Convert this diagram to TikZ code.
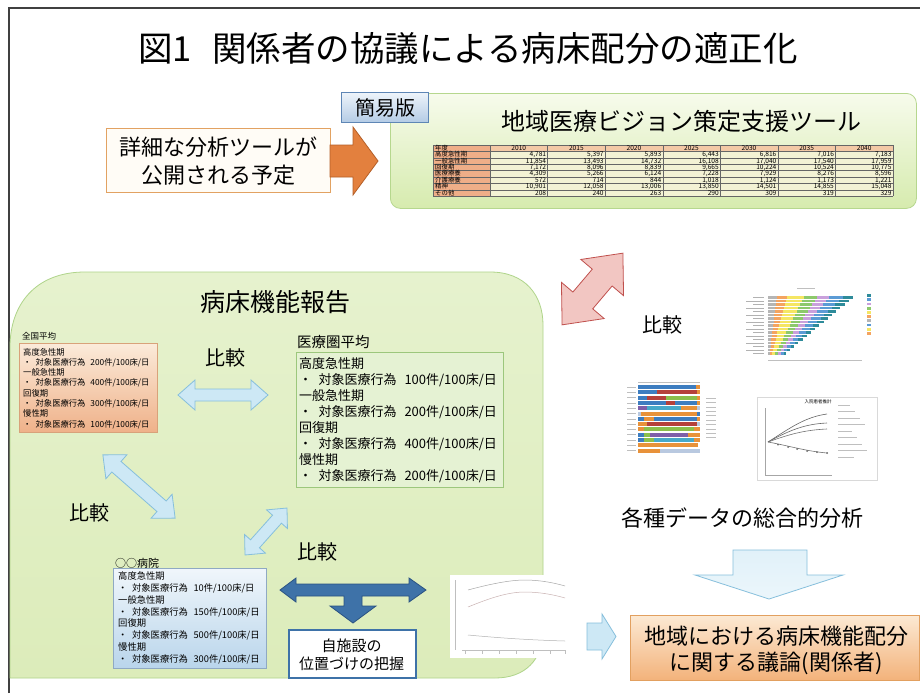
\documentclass[tikz,border=0pt]{standalone}
\usepackage{fontspec}
\setmainfont{Noto Sans CJK JP}
\newcommand\fsz[1]{\fontsize{#1}{#1}\selectfont}
\definecolor{grnT}{HTML}{E6F2CE}
\definecolor{grnB}{HTML}{DCECBA}
\definecolor{grnD}{HTML}{AFD48A}
\definecolor{toolT}{HTML}{F7FBEC}
\definecolor{toolB}{HTML}{D6EBAE}
\definecolor{toolD}{HTML}{B6D78E}
\definecolor{kanT}{HTML}{EEF4FA}
\definecolor{kanB}{HTML}{B3CBE5}
\definecolor{kanD}{HTML}{5E86B5}
\definecolor{detF}{HTML}{FFFCF6}
\definecolor{detD}{HTML}{E2A262}
\definecolor{oarF}{HTML}{E3803E}
\definecolor{oarD}{HTML}{B45F28}
\definecolor{zenT}{HTML}{FBEBDA}
\definecolor{zenB}{HTML}{EFB189}
\definecolor{zenD}{HTML}{D8A27A}
\definecolor{medF}{HTML}{E5F2D3}
\definecolor{medD}{HTML}{9CC77C}
\definecolor{hosT}{HTML}{F0F6FB}
\definecolor{hosB}{HTML}{B9D5EB}
\definecolor{hosD}{HTML}{8FA9C3}
\definecolor{lblue}{HTML}{CDE8F5}
\definecolor{lblueD}{HTML}{86BFDC}
\definecolor{dblue}{HTML}{3E72A8}
\definecolor{dblueD}{HTML}{2A5282}
\definecolor{pinkF}{HTML}{F2C6C2}
\definecolor{pinkD}{HTML}{C0504D}
\definecolor{discT}{HTML}{FCE9D3}
\definecolor{discB}{HTML}{F3B27A}
\definecolor{discD}{HTML}{E2A060}
\definecolor{tlabF}{HTML}{EFAE88}
\definecolor{thdF}{HTML}{F3C9A6}
\definecolor{tvalF}{HTML}{F3F2D4}
\definecolor{cT}{HTML}{2E8B9A}
\definecolor{cB}{HTML}{5B9BD5}
\definecolor{cP}{HTML}{C9A0DC}
\definecolor{cG}{HTML}{8DC96B}
\definecolor{cY}{HTML}{F5E663}
\definecolor{cO}{HTML}{F4A460}
\definecolor{cGr}{HTML}{B5B5B5}
\definecolor{sB}{HTML}{3D7DC0}
\definecolor{sR}{HTML}{B5403A}
\definecolor{sG}{HTML}{8BBF4B}
\definecolor{sO}{HTML}{E8923A}
\definecolor{sP}{HTML}{7E5FA8}
\definecolor{sC}{HTML}{47A9C9}
\definecolor{sL}{HTML}{B9C9E0}
\newcommand\dblarrow[8]{%
 \begin{scope}[shift={(#2,#3)},rotate=#4]
  \draw[#1] (-#5,0) -- ({-#5+#8},{-#7}) -- ({-#5+#8},{-#6}) -- ({#5-#8},{-#6}) -- ({#5-#8},{-#7}) -- (#5,0) -- ({#5-#8},{#7}) -- ({#5-#8},{#6}) -- ({-#5+#8},{#6}) -- ({-#5+#8},{#7}) -- cycle;
 \end{scope}}
\newcommand\trow[9]{%
 \pgfmathsetmacro\ty{145+6.4*#1+5.3}
 \node[tlab] (tl#1) at (435,\ty) {#2};
 \node[tnum] (tn#1a) at (546.3,\ty) {#3};
 \node[tnum] (tn#1b) at (603.8,\ty) {#4};
 \node[tnum] (tn#1c) at (661.4,\ty) {#5};
 \node[tnum] (tn#1d) at (719.0,\ty) {#6};
 \node[tnum] (tn#1e) at (776.6,\ty) {#7};
 \node[tnum] (tn#1f) at (834.1,\ty) {#8};
 \node[tnum] (tn#1g) at (891.7,\ty) {#9};}
\newcommand\sbar[2]{%
 \pgfmathsetmacro\sy{385+5.3*#1}
 \foreach \c/\f in {#2}{\fill[\c] (638,\sy) rectangle ({638+62*\f},{\sy+4});}}
\begin{document}
\begin{tikzpicture}[x=1pt,y=-1pt,
  frame/.style={draw=black!75,line width=1.6pt},
  cmp/.style={font=\fsz{20pt},inner sep=0pt},
  lbarr/.style={fill=lblue,draw=lblueD,line width=0.8pt,line join=miter},
  boxnode/.style={anchor=north west,inner sep=0pt},
  tlab/.style={anchor=base west,inner sep=0pt,font=\fsz{6.4pt}},
  tnum/.style={anchor=base east,inner sep=0pt,font=\fsz{6.6pt}},
  thd/.style={anchor=base,inner sep=0pt,font=\fsz{6.6pt}},
  zline/.style={anchor=base west,inner sep=0pt,font=\fsz{8.3pt}},
  mline/.style={anchor=base west,inner sep=0pt,font=\fsz{13pt}},
  hline/.style={anchor=base west,inner sep=0pt,font=\fsz{9.3pt}},
  tgrid/.style={draw=black!60,line width=0.3pt},
  faint/.style={draw=black!30,line width=0.5pt}]
\useasboundingbox (0,0) rectangle (920,693);
\fill[white] (0,0) rectangle (920,693);
\draw[frame] (9,693) -- (9,8) -- (920,8);

% title
\node[font=\fsz{34.5pt},inner sep=0pt] (title) at (468,48) {図1\hspace{20pt}関係者の協議による病床配分の適正化};

% tool box
\node[boxnode,draw=toolD,line width=0.8pt,rounded corners=10pt,top color=toolT,bottom color=toolB,minimum width=526pt,minimum height=115pt] (tool) at (390,93) {};
\node[boxnode,draw=kanD,line width=1pt,top color=kanT,bottom color=kanB,minimum width=87pt,minimum height=30pt] (kan) at (341,92) {};
\node[font=\fsz{20pt},inner sep=0pt] (kanT) at (kan.center) {簡易版};
\node[font=\fsz{24pt},inner sep=0pt] (toolT) at (681,121) {地域医療ビジョン策定支援ツール};

% table
\fill[thdF] (433,145) rectangle (893,151.4);
\fill[tvalF] (490,151.4) rectangle (893,196.2);
\fill[tlabF] (433,145) rectangle (490,196.2);
\foreach \r in {0,...,8}{\draw[tgrid] (433,{145+6.4*\r}) -- (893,{145+6.4*\r});}
\foreach \c in {0,...,7}{\draw[tgrid] ({490+57.57*\c},145) -- ({490+57.57*\c},196.2);}
\draw[tgrid] (433,145) -- (433,196.2);
\node[tlab] (tl0) at (435,150.3) {年度};
\foreach \yr [count=\k] in {2010,2015,2020,2025,2030,2035,2040}{
  \node[thd] (th\k) at ({490+57.57*\k-28.8},150.3) {\yr};}
\trow{1}{高度急性期}{4,781}{5,397}{5,893}{6,443}{6,816}{7,016}{7,183}
\trow{2}{一般急性期}{11,854}{13,493}{14,732}{16,108}{17,040}{17,540}{17,959}
\trow{3}{回復期}{7,172}{8,096}{8,839}{9,665}{10,224}{10,524}{10,775}
\trow{4}{医療療養}{4,309}{5,266}{6,124}{7,228}{7,929}{8,276}{8,596}
\trow{5}{介護療養}{572}{714}{844}{1,018}{1,124}{1,173}{1,221}
\trow{6}{精神}{10,901}{12,058}{13,006}{13,850}{14,501}{14,855}{15,048}
\trow{7}{その他}{208}{240}{263}{290}{309}{319}{329}

% detail box and orange arrow
\node[boxnode,draw=detD,line width=1.3pt,fill=detF,minimum width=224pt,minimum height=64pt] (det) at (106,128) {};
\node[font=\fsz{22pt},inner sep=0pt] (det1) at (218,147) {詳細な分析ツールが};
\node[font=\fsz{22pt},inner sep=0pt] (det2) at (218,175) {公開される予定};
\draw[fill=oarF,draw=oarD,line width=0.8pt] (330,145) -- (353,145) -- (353,127) -- (378,161) -- (353,195) -- (353,177) -- (330,177) -- cycle;

% green region
\draw[draw=grnD,line width=0.8pt,top color=grnT,bottom color=grnB] (10,678) -- (10,347) .. controls (10,305) and (35,272) .. (85,272) -- (490,272) .. controls (525,272) and (543,295) .. (543,325) -- (543,630) .. controls (543,660) and (525,678) .. (495,678) -- cycle;
\node[font=\fsz{25pt},inner sep=0pt] (bed) at (275,302) {病床機能報告};

% national average
\node[anchor=base west,inner sep=0pt,font=\fsz{8.5pt}] (zenL) at (22,339) {全国平均};
\node[boxnode,draw=zenD,line width=0.6pt,top color=zenT,bottom color=zenB,minimum width=138pt,minimum height=89pt] (zen) at (19,343) {};
\foreach \t [count=\i] in {高度急性期,・\hspace{0.5em}対象医療行為\hspace{0.6em}200件/100床/日,一般急性期,・\hspace{0.5em}対象医療行為\hspace{0.6em}400件/100床/日,回復期,・\hspace{0.5em}対象医療行為\hspace{0.6em}300件/100床/日,慢性期,・\hspace{0.5em}対象医療行為\hspace{0.6em}100件/100床/日}{
  \node[zline] (zen\i) at (23,{355+10.3*(\i-1)}) {\t};}

% regional average
\node[anchor=base west,inner sep=0pt,font=\fsz{14.5pt}] (medL) at (297,347) {医療圏平均};
\node[boxnode,draw=medD,line width=0.8pt,fill=medF,minimum width=207pt,minimum height=135pt] (med) at (296,352) {};
\foreach \t [count=\i] in {高度急性期,・\hspace{0.5em}対象医療行為\hspace{0.6em}100件/100床/日,一般急性期,・\hspace{0.5em}対象医療行為\hspace{0.6em}200件/100床/日,回復期,・\hspace{0.5em}対象医療行為\hspace{0.6em}400件/100床/日,慢性期,・\hspace{0.5em}対象医療行為\hspace{0.6em}200件/100床/日}{
  \node[mline] (med\i) at (299,{368+16*(\i-1)}) {\t};}

% hospital
\node[anchor=base west,inner sep=0pt,font=\fsz{11pt}] (hosL) at (115,567) {○○病院};
\node[boxnode,draw=hosD,line width=0.6pt,top color=hosT,bottom color=hosB,minimum width=153pt,minimum height=100pt] (hos) at (113,568) {};
\foreach \t [count=\i] in {高度急性期,・\hspace{0.5em}対象医療行為\hspace{0.6em}10件/100床/日,一般急性期,・\hspace{0.5em}対象医療行為\hspace{0.6em}150件/100床/日,回復期,・\hspace{0.5em}対象医療行為\hspace{0.6em}500件/100床/日,慢性期,・\hspace{0.5em}対象医療行為\hspace{0.6em}300件/100床/日}{
  \node[hline] (hos\i) at (118,{579.5+11.85*(\i-1)}) {\t};}

% comparison arrows
\dblarrow{lbarr}{223}{395}{0}{45}{6}{15}{17}
\dblarrow{lbarr}{139}{486.5}{-41.2}{48}{7}{16}{18}
\dblarrow{lbarr}{266}{531.5}{48.2}{31.5}{6}{14}{15}
\node[cmp] (cmp1) at (225,358) {比較};
\node[cmp] (cmp2) at (89,513) {比較};
\node[cmp] (cmp3) at (317,552) {比較};

% T arrow
\draw[fill=dblue,draw=dblueD,line width=0.8pt] (280,590) -- (296,578) -- (296,584) -- (409,584) -- (409,578) -- (426,590) -- (409,602) -- (409,596) -- (362,596) -- (362,606) -- (376,606) -- (353,623) -- (330,606) -- (344,606) -- (344,596) -- (296,596) -- (296,602) -- cycle;
\node[boxnode,draw=dblue,line width=2pt,fill=white,minimum width=127pt,minimum height=48pt] (own) at (288,629) {};
\node[font=\fsz{15pt},inner sep=0pt] (own1) at (351.5,646) {自施設の};
\node[font=\fsz{15pt},inner sep=0pt] (own2) at (351.5,664) {位置づけの把握};

% small chart image bottom
\fill[white] (450,575) rectangle (567,658);
\draw[black!25,line width=0.5pt] (462,650) -- (565,650);
\foreach \x in {465,482,499,516,533,550,565}{\draw[black!25,line width=0.4pt] (\x,650) -- (\x,654);}
\draw[black!25,line width=0.4pt] (455,580) -- (455,650);
\draw[black!35,line width=0.5pt] (468,590) .. controls (490,584) and (510,580) .. (525,580) .. controls (540,580) and (555,583) .. (565,586);
\draw[red!30!black!30,line width=0.5pt] (468,607) .. controls (490,598) and (508,592) .. (525,592) .. controls (540,592) and (555,595) .. (565,598);
\draw[black!30,line width=0.5pt] (468,635) .. controls (500,638) and (530,640) .. (565,641);

% pink arrow and right side
\dblarrow{fill=pinkF,draw=pinkD,line width=0.8pt}{592.5}{289}{49.7}{47}{13}{28}{32}
\node[cmp] (cmp4) at (662,325) {比較};

% bar chart
\draw[black!25,line width=0.3pt] (797,288) -- (815,288);
\foreach \i in {0,...,16}{
  \pgfmathsetmacro\yy{296+3.5*\i}
  \pgfmathsetmacro\LL{85-4.2*\i}
  \foreach \c/\f in {cT/1.0,cB/0.88,cP/0.72,cG/0.58,cY/0.42,cO/0.22,cGr/0.1}{
    \fill[\c] (768,\yy) rectangle ({768+\LL*\f},{\yy+2.6});}
  \draw[black!30,line width=0.5pt] ({765-12-mod(\i*7,14)},{\yy+1.3}) -- (764,{\yy+1.3});}
\foreach \c [count=\i] in {cT,cB,cP,cG,cY,cO,cGr,cB,cY,cO}{\fill[\c] (867,{290+4.2*\i}) rectangle (871,{292.8+4.2*\i});}
\draw[black!25,line width=0.3pt] (768,360) -- (862,360);

% stacked bar chart
\foreach \i in {0,...,12}{\draw[black!25,line width=0.5pt] (627,{387+5.3*\i}) -- (636,{387+5.3*\i});}
\draw[black!25,line width=0.3pt] (638,382) -- (700,382);
\sbar{0}{sO/1,sB/0.94}
\sbar{1}{sO/1,sR/0.95,sB/0.3}
\sbar{2}{sO/1,sG/0.95,sR/0.45,sB/0.15}
\sbar{3}{sO/1,sB/0.95,sR/0.6,sB/0.45}
\sbar{4}{sL/1,sO/0.95,sC/0.7,sP/0.15}
\sbar{5}{sB/1,sO/0.95,sL/0.05}
\sbar{6}{sO/1,sB/0.95,sO/0.25,sB/0.1}
\sbar{7}{sL/1,sR/0.95,sO/0.15}
\sbar{8}{sO/1,sG/0.9,sO/0.1}
\sbar{9}{sO/1,sP/0.8,sG/0.2,sB/0.1}
\sbar{10}{sO/1,sC/0.9,sG/0.25,sB/0.1}
\sbar{11}{sO/0.97}
\sbar{12}{sL/1,sO/0.35}
\foreach \i in {0,...,9}{\draw[black!25,line width=0.5pt] (706,{398+4.4*\i}) -- (716,{398+4.4*\i});}

% line chart
\draw[black!15,line width=0.4pt] (757,397) rectangle (877,480);
\node[font=\fsz{4.5pt},inner sep=0pt] (lct) at (818,402) {入院患者推計};
\draw[black!35,line width=0.4pt] (765,408) -- (765,475) -- (832,475);
\draw[black!60,line width=0.6pt] (768,442) .. controls (790,428) and (805,417) .. (827,414);
\draw[black!60,line width=0.6pt] (768,442) .. controls (790,430) and (805,424) .. (827,423);
\draw[black!55,line width=0.6pt] (768,442) .. controls (790,434) and (805,430) .. (827,429);
\draw[black!55,line width=0.6pt] (768,442) .. controls (790,446) and (805,451) .. (827,453);
\foreach \x/\y in {778/444.6,788/447,797/449,807/451,817/452.2,827/453}{\fill[black!60] (\x,\y) circle (1pt);}
\foreach \i in {0,...,8}{\draw[black!25,line width=0.5pt] (838,{405+6.5*\i}) -- ({850+mod(\i*5,18)},{405+6.5*\i});}

% analysis
\node[font=\fsz{22pt},inner sep=0pt] (ana) at (742,518) {各種データの総合的分析};
\draw[top color=lblue!60!white,bottom color=lblue!40!white,draw=lblueD,line width=0.8pt] (733,550) -- (807,550) -- (807,575) -- (843,575) -- (769,599) -- (695,575) -- (733,575) -- cycle;
\draw[lbarr] (587,623) -- (602,623) -- (602,614) -- (616,636.5) -- (602,659) -- (602,650) -- (587,650) -- cycle;
\node[boxnode,draw=discD,line width=1pt,top color=discT,bottom color=discB,minimum width=289pt,minimum height=65pt] (disc) at (630,615) {};
\node[font=\fsz{22pt},inner sep=0pt] (disc1) at (776,636) {地域における病床機能配分};
\node[font=\fsz{22pt},inner sep=0pt] (disc2) at (776,663) {に関する議論(関係者)};
\end{tikzpicture}
\end{document}
